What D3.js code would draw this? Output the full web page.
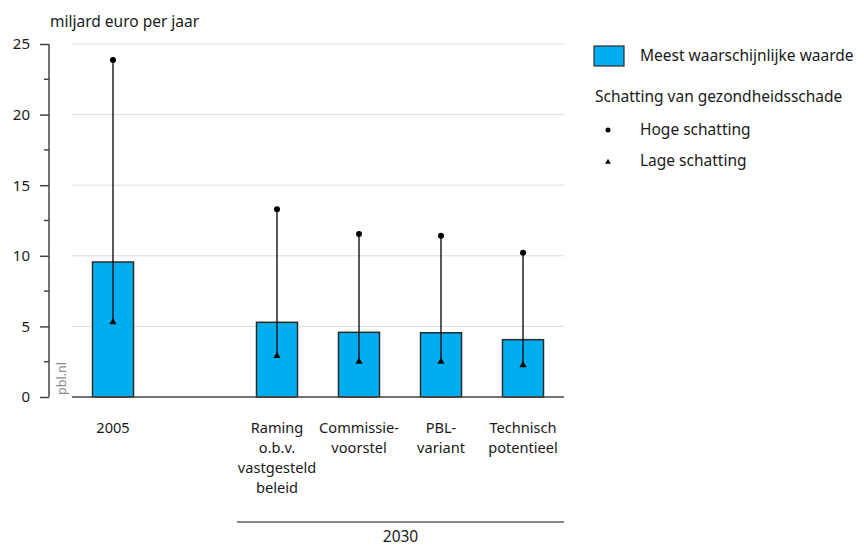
<!DOCTYPE html>
<html><head><meta charset="utf-8">
<script src="https://cdn.jsdelivr.net/npm/d3@7"></script>
<style>body{margin:0;background:#fff}text{font-family:"Noto Sans",sans-serif;fill:#1a1a1a}</style>
</head><body><svg id="c" width="864" height="548"></svg>
<script>
const categories = ["2005", "", "Raming o.b.v. vastgesteld beleid", "Commissie-voorstel", "PBL-variant", "Technisch potentieel"];
const labelLines = [["2005"], [], ["Raming", "o.b.v.", "vastgesteld", "beleid"], ["Commissie-", "voorstel"], ["PBL-", "variant"], ["Technisch", "potentieel"]];
const mostLikely = [9.56, null, 5.29, 4.58, 4.55, 4.06];
const highEst = [23.87, null, 13.3, 11.54, 11.42, 10.22];
const lowEst = [5.3, null, 2.9, 2.5, 2.5, 2.25];
const yTicks = [0, 5, 10, 15, 20, 25];
const minorTicks = [2.5, 7.5, 12.5, 17.5, 22.5];
const groupLabel = "2030";

const FS = 15.5;
const LFS = 14.6;
const LH = 20;
const svg = d3.select("#c");
const x = d3.scaleBand().domain(categories.map((d,i)=>i)).range([72, 564]).paddingInner(0.5).paddingOuter(0.25);
const y = d3.scaleLinear().domain([0, 25]).range([397, 44]);

// title
svg.append("text").attr("x", 50).attr("y", 27).attr("font-size", FS).text("miljard euro per jaar");

// gridlines
svg.append("g").selectAll("line").data(yTicks.filter(d=>d>0)).join("line")
  .attr("x1", 72).attr("x2", 564).attr("y1", d=>y(d)).attr("y2", d=>y(d))
  .attr("stroke", "#dcdcdc").attr("stroke-width", 1);

// y axis
const ya = svg.append("g").attr("transform", "translate(49,0)")
  .call(d3.axisLeft(y).tickValues(yTicks).tickSize(9).tickPadding(10));
ya.select(".domain").attr("stroke", "#444").attr("stroke-width", 1.5).attr("d", `M0,${y(25)}V${y(0)}`);
ya.selectAll(".tick line").attr("stroke", "#444").attr("stroke-width", 1.5);
ya.selectAll(".tick text").attr("font-size", 15).attr("font-family", "Noto Sans").attr("fill", "#1a1a1a");
svg.append("g").attr("transform", "translate(49,0)").selectAll("line").data(minorTicks).join("line")
  .attr("x1", -5).attr("x2", 0).attr("y1", d=>y(d)).attr("y2", d=>y(d)).attr("stroke", "#444").attr("stroke-width", 1.5);

// pbl.nl
svg.append("text").attr("transform", `translate(66,${y(0)-2}) rotate(-90)`).attr("font-size", 12.5)
  .style("fill", "#8a8a8a").text("pbl.nl");

// bars
const idx = categories.map((d,i)=>i).filter(i=>mostLikely[i]!==null);
svg.append("g").selectAll("rect").data(idx).join("rect")
  .attr("x", i=>x(i)).attr("width", x.bandwidth())
  .attr("y", i=>y(mostLikely[i])).attr("height", i=>y(0)-y(mostLikely[i]))
  .attr("fill", "#00aeef").attr("stroke", "#2a2a2a").attr("stroke-width", 1.5);

// baseline
svg.append("line").attr("x1", 72).attr("x2", 564).attr("y1", y(0)).attr("y2", y(0)).attr("stroke", "#444").attr("stroke-width", 1.5);

// error lines
const cx = i => x(i) + x.bandwidth()/2;
svg.append("g").selectAll("line").data(idx).join("line")
  .attr("x1", cx).attr("x2", cx).attr("y1", i=>y(highEst[i])).attr("y2", i=>y(lowEst[i]))
  .attr("stroke", "#000").attr("stroke-width", 1.3);
svg.append("g").selectAll("circle").data(idx).join("circle")
  .attr("cx", cx).attr("cy", i=>y(highEst[i])).attr("r", 3).attr("fill", "#000");
const tri = d3.symbol().type(d3.symbolTriangle).size(22);
svg.append("g").selectAll("path").data(idx).join("path")
  .attr("transform", i=>`translate(${cx(i)},${y(lowEst[i])})`).attr("d", tri).attr("fill", "#000");

// x labels (one text per category, lines as tspans)
const xl = svg.append("g");
labelLines.forEach((lines, i) => {
  if (!lines.length) return;
  const t = xl.append("text").attr("x", cx(i)).attr("y", 433).attr("text-anchor", "middle").attr("font-size", LFS);
  lines.forEach((l, k) => {
    t.append("tspan").attr("x", cx(i)).attr("y", 433 + k*LH).text(l);
  });
});
// group line
svg.append("line").attr("x1", 237).attr("x2", 564).attr("y1", 522).attr("y2", 522).attr("stroke", "#111").attr("stroke-width", 1.2);
svg.append("text").attr("x", (237+564)/2).attr("y", 542).attr("text-anchor", "middle").attr("font-size", FS).text(groupLabel);

// legend
const lg = svg.append("g");
lg.append("rect").attr("x", 594).attr("y", 46).attr("width", 30).attr("height", 20).attr("fill", "#00aeef").attr("stroke", "#2a2a2a").attr("stroke-width", 1.2);
lg.append("text").attr("x", 640).attr("y", 61).attr("font-size", FS).text("Meest waarschijnlijke waarde");
lg.append("text").attr("x", 595).attr("y", 102).attr("font-size", FS).text("Schatting van gezondheidsschade");
lg.append("circle").attr("cx", 608).attr("cy", 130).attr("r", 2.5).attr("fill", "#000");
lg.append("text").attr("x", 640).attr("y", 135).attr("font-size", FS).text("Hoge schatting");
lg.append("path").attr("transform", "translate(608,162)").attr("d", d3.symbol().type(d3.symbolTriangle).size(14)).attr("fill", "#000");
lg.append("text").attr("x", 640).attr("y", 166).attr("font-size", FS).text("Lage schatting");
</script></body></html>
